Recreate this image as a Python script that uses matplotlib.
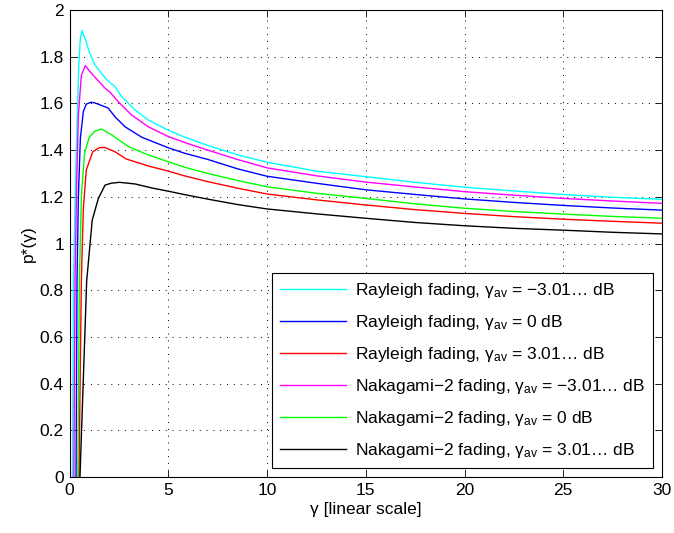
import matplotlib
matplotlib.use("Agg")
import matplotlib.pyplot as plt

plt.rcParams['font.family'] = ['Liberation Sans', 'DejaVu Sans']
plt.rcParams['mathtext.fontset'] = 'custom'
plt.rcParams['mathtext.rm'] = 'Liberation Sans'
plt.rcParams['mathtext.it'] = 'Liberation Sans:italic'

# Series
ray_m3_x = [0.15, 0.2, 0.29, 0.36, 0.47, 0.55, 0.63, 0.84, 1.0, 1.29, 1.6, 1.9, 2.3, 2.64, 3.32, 3.99, 5, 5.85, 7, 8.5, 10, 12.5, 15, 17.5, 20, 22.5, 25, 27.5, 30]
ray_m3_y = [0, 0.84, 1.2, 1.45, 1.76, 1.88, 1.912, 1.865, 1.82, 1.765, 1.73, 1.70, 1.672, 1.629, 1.572, 1.529, 1.485, 1.455, 1.42, 1.38, 1.348, 1.31, 1.286, 1.262, 1.241, 1.225, 1.21, 1.198, 1.189]

ray_0_x = [0.33, 0.38, 0.45, 0.55, 0.7, 0.85, 1.1, 1.29, 1.69, 1.96, 2.3, 2.81, 3.66, 5, 5.85, 7, 8.5, 10, 12.5, 15, 17.5, 20, 22.5, 25, 27.5, 30]
ray_0_y = [0, 0.84, 1.2, 1.45, 1.565, 1.597, 1.605, 1.602, 1.589, 1.58, 1.543, 1.50, 1.455, 1.41, 1.386, 1.36, 1.32, 1.288, 1.258, 1.23, 1.21, 1.191, 1.176, 1.163, 1.152, 1.143]

ray_p3_x = [0.48, 0.6, 0.7, 0.85, 1.18, 1.5, 1.77, 2.3, 2.87, 3.99, 5, 5.85, 7, 8.5, 10, 12.5, 15, 17.5, 20, 22.5, 25, 27.5, 30]
ray_p3_y = [0, 0.84, 1.15, 1.315, 1.393, 1.41, 1.412, 1.393, 1.362, 1.332, 1.31, 1.289, 1.265, 1.237, 1.212, 1.187, 1.165, 1.145, 1.129, 1.115, 1.104, 1.095, 1.087]

nak_m3_x = [0.22, 0.28, 0.36, 0.45, 0.6, 0.8, 1.0, 1.29, 1.8, 2.05, 2.47, 3.15, 3.99, 5, 5.85, 7, 8.5, 10, 12.5, 15, 17.5, 20, 22.5, 25, 27.5, 30]
nak_m3_y = [0, 0.84, 1.25, 1.55, 1.72, 1.762, 1.74, 1.712, 1.665, 1.648, 1.607, 1.55, 1.50, 1.458, 1.432, 1.40, 1.36, 1.324, 1.29, 1.263, 1.242, 1.222, 1.207, 1.193, 1.182, 1.172]

nak_0_x = [0.42, 0.5, 0.6, 0.76, 1.0, 1.3, 1.63, 2.14, 2.98, 3.99, 5, 5.85, 7, 8.5, 10, 12.5, 15, 17.5, 20, 22.5, 25, 27.5, 30]
nak_0_y = [0, 0.84, 1.2, 1.386, 1.455, 1.482, 1.49, 1.465, 1.415, 1.379, 1.35, 1.326, 1.30, 1.27, 1.243, 1.215, 1.193, 1.17, 1.151, 1.137, 1.126, 1.116, 1.108]

nak_p3_x = [0.53, 0.87, 1.15, 1.46, 1.8, 2.1, 2.53, 3.32, 4.16, 5, 5.85, 7, 8.5, 10, 12.5, 15, 17.5, 20, 22.5, 25, 27.5, 30]
nak_p3_y = [0, 0.84, 1.10, 1.193, 1.25, 1.258, 1.262, 1.255, 1.238, 1.224, 1.209, 1.19, 1.167, 1.148, 1.127, 1.108, 1.09, 1.076, 1.065, 1.057, 1.048, 1.041]

labels = [
    "Rayleigh fading, γ$_{\\mathrm{av}}$ = −3.01… dB",
    "Rayleigh fading, γ$_{\\mathrm{av}}$ = 0 dB",
    "Rayleigh fading, γ$_{\\mathrm{av}}$ = 3.01… dB",
    "Nakagami−2 fading, γ$_{\\mathrm{av}}$ = −3.01… dB",
    "Nakagami−2 fading, γ$_{\\mathrm{av}}$ = 0 dB",
    "Nakagami−2 fading, γ$_{\\mathrm{av}}$ = 3.01… dB",
]
colors = ['#00ffff', '#0000ff', '#ff0000', '#ff00ff', '#00ff00', '#000000']
xs = [ray_m3_x, ray_0_x, ray_p3_x, nak_m3_x, nak_0_x, nak_p3_x]
ys = [ray_m3_y, ray_0_y, ray_p3_y, nak_m3_y, nak_0_y, nak_p3_y]

xticks = [0, 5, 10, 15, 20, 25, 30]
yticks = [0, 0.2, 0.4, 0.6, 0.8, 1, 1.2, 1.4, 1.6, 1.8, 2]
ytick_labels = ['0', '0.2', '0.4', '0.6', '0.8', '1', '1.2', '1.4', '1.6', '1.8', '2']

fig = plt.figure(figsize=(6.74, 5.33), dpi=100)
ax = fig.add_axes([69.5/674, 1-477/533, (662-69.5)/674, (477-10)/533])

for x, y, c, l in zip(xs, ys, colors, labels):
    ax.plot(x, y, color=c, lw=1.0, label=l)

ax.set_xlim(0, 30)
ax.set_ylim(0, 2)
ax.set_xticks(xticks)
ax.set_yticks(yticks)
ax.set_yticklabels(ytick_labels)
ax.tick_params(direction='in', top=True, right=True, length=5, width=0.6, labelsize=12.5, pad=4)
ax.grid(True, color='black', linestyle=(0, (1, 6)), linewidth=0.7)
for s in ax.spines.values():
    s.set_linewidth(0.8)

ax.set_xlabel("γ [linear scale]", fontsize=12.5, labelpad=3)
ax.set_ylabel("p*(γ)", fontsize=12.5, labelpad=3)

leg = ax.legend(loc='lower right', bbox_to_anchor=((652.7-69.5)/(662-69.5), (477-468)/467),
                borderaxespad=0, fontsize=12.5, fancybox=False, framealpha=1,
                edgecolor='black', handlelength=3.8, labelspacing=0.75, handletextpad=0.5,
                borderpad=0.45)
leg.get_frame().set_linewidth(0.8)

fig.savefig("out.png", dpi=100)
